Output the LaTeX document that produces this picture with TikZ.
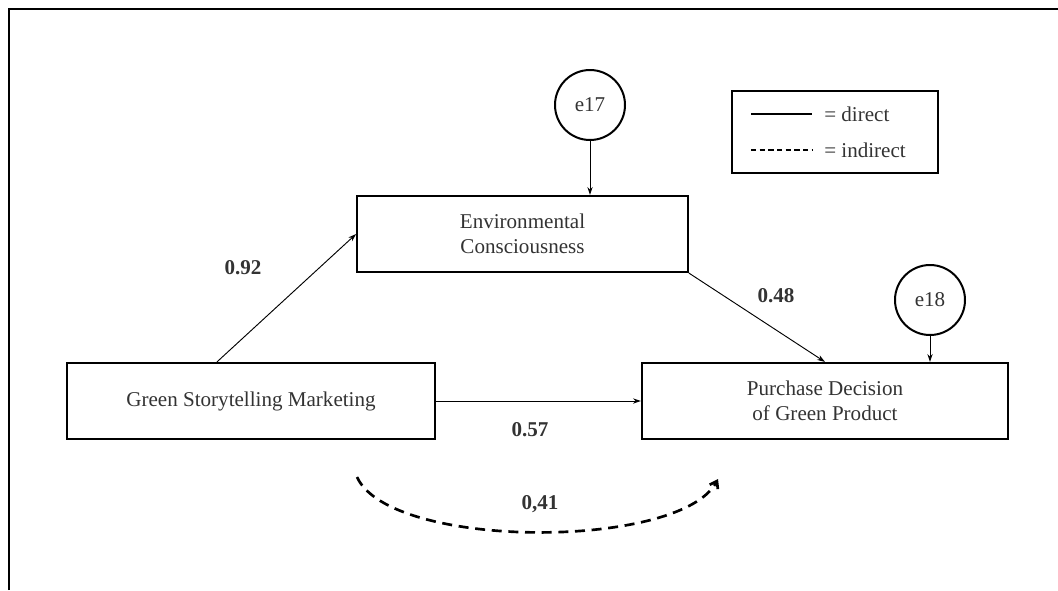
\documentclass[tikz,border=0pt]{standalone}
\usepackage{fontspec}
\setmainfont{Liberation Serif}
\usetikzlibrary{arrows.meta,calc}
\definecolor{txt}{HTML}{333333}
\begin{document}
\begin{tikzpicture}[x=0.75pt,y=-0.75pt,
  font=\fontsize{15.8}{19}\selectfont,
  box/.style={draw=black, line width=1.6pt, inner sep=0pt, align=center, text=txt, minimum height=57pt},
  errc/.style={draw=black, line width=1.5pt, circle, inner sep=0pt, minimum size=52.5pt, text=txt},
  conn/.style={line width=0.7pt, -{Stealth[length=6pt,width=4pt]}},
  coef/.style={font=\fontsize{15.8}{19}\selectfont\bfseries, text=txt}]
\useasboundingbox (0,0) rectangle (1058,590);
\draw[line width=1.5pt] (9,590) -- (9,9) -- (1058,9);

% boxes
\node[box, minimum width=276pt] (gsm) at (251,401) {Green Storytelling Marketing};
\node[box, minimum width=248pt] (ec) at (522.5,234) {Environmental\\Consciousness};
\node[box, minimum width=274.5pt] (pd) at (825,401) {Purchase Decision\\of Green Product};

% error terms
\node[errc] (e17) at (590,105) {e17};
\node[errc] (e18) at (930,300) {e18};

% legend
\node[draw=black, line width=1pt, minimum width=154.5pt, minimum height=61.5pt, inner sep=0pt] (leg) at (835,132) {};
\coordinate (l1a) at (751,114); \coordinate (l1b) at (812,114);
\coordinate (l2a) at (751,150); \coordinate (l2b) at (812,150);
\draw[line width=0.8pt] (l1a) -- (l1b);
\draw[line width=0.8pt, dash pattern=on 4pt off 2.5pt] (l2a) -- (l2b);
\node[anchor=west, text=txt, inner sep=0pt] (ld) at (824,114) {= direct};
\node[anchor=west, text=txt, inner sep=0pt] (li) at (824,150) {= indirect};

% connectors
\draw[conn] ($(gsm.north west)!0.408!(gsm.north east)$) -- (ec.west);
\draw[conn] (ec.south east) -- (pd.north);
\draw[conn] (gsm.east) -- (pd.west);
\draw[conn] (e17.south) -- (e17.south |- ec.north);
\draw[conn] (e18.south) -- (e18.south |- pd.north);

% indirect curve
\coordinate (cs) at (357,477);
\coordinate (ce) at (718,479);
\draw[line width=2pt, dash pattern=on 7.5pt off 5pt, -{Straight Barb[length=5pt,width=7pt,line width=2pt]}]
  (cs) .. controls (390,550) and (680,550) .. (ce);

% coefficients
\node[coef] (c92) at (243,268) {0.92};
\node[coef] (c48) at (776,296) {0.48};
\node[coef] (c57) at (530,430) {0.57};
\node[coef] (c41) at (540,504) {0,41};
\end{tikzpicture}
\end{document}
